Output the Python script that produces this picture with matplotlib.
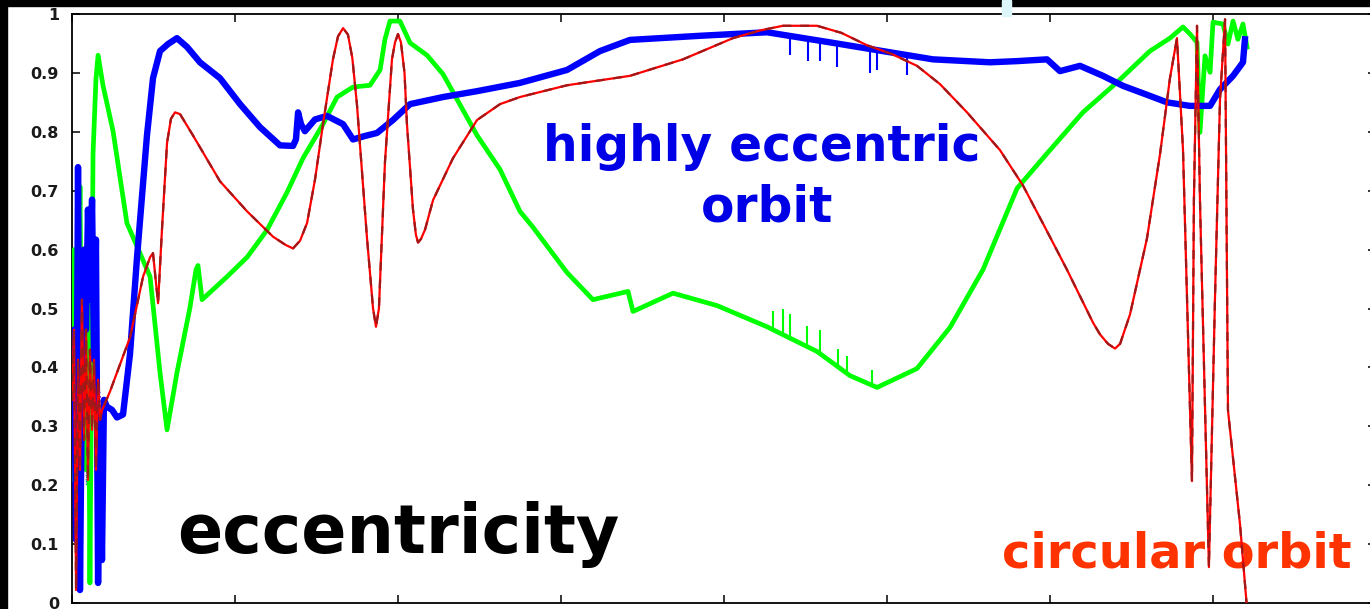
import matplotlib.pyplot as plt
import numpy as np
from matplotlib.patches import Rectangle

# time in tick units, eccentricity on the y axis
red_t = [0.000, 0.012, 0.025, 0.037, 0.049, 0.061, 0.074, 0.086, 0.098, 0.110,
         0.123, 0.135, 0.147, 0.160, 0.172, 0.184, 0.233, 0.356, 0.436, 0.479,
         0.497, 0.528, 0.552, 0.583, 0.607, 0.632, 0.663, 0.742, 0.908, 1.074,
         1.233, 1.310, 1.356, 1.399, 1.442, 1.491, 1.540, 1.601, 1.632, 1.663,
         1.693, 1.720, 1.748, 1.810, 1.847, 1.865, 1.883, 1.920, 1.963, 1.982,
         2.000, 2.018, 2.040, 2.055, 2.092, 2.110, 2.123, 2.141, 2.166, 2.215,
         2.337, 2.485, 2.626, 2.748, 3.037, 3.423, 3.748, 4.055, 4.220, 4.362,
         4.571, 4.720, 4.877, 5.030, 5.184, 5.325, 5.491, 5.693, 5.834, 5.969,
         6.104, 6.264, 6.307, 6.356, 6.399, 6.430, 6.491, 6.595, 6.675, 6.736,
         6.779, 6.816, 6.871, 6.883, 6.902, 6.920, 6.975, 7.012, 7.043, 7.074,
         7.080, 7.092, 7.166, 7.209]
red_e = [0.345, 0.464, 0.022, 0.413, 0.226, 0.515, 0.277, 0.464, 0.209, 0.430,
         0.294, 0.413, 0.226, 0.379, 0.311, 0.327, 0.359, 0.451, 0.554, 0.587,
         0.594, 0.509, 0.634, 0.781, 0.822, 0.833, 0.830, 0.794, 0.716, 0.665,
         0.622, 0.608, 0.602, 0.615, 0.645, 0.719, 0.813, 0.923, 0.962, 0.976,
         0.965, 0.925, 0.847, 0.619, 0.500, 0.469, 0.500, 0.748, 0.923, 0.952,
         0.966, 0.952, 0.900, 0.813, 0.668, 0.625, 0.612, 0.618, 0.634, 0.684,
         0.755, 0.820, 0.847, 0.859, 0.879, 0.895, 0.923, 0.959, 0.972, 0.980,
         0.980, 0.968, 0.947, 0.932, 0.912, 0.881, 0.833, 0.769, 0.709, 0.638,
         0.566, 0.476, 0.456, 0.440, 0.432, 0.440, 0.490, 0.619, 0.762, 0.891,
         0.959, 0.770, 0.207, 0.685, 0.980, 0.685, 0.061, 0.515, 0.855, 0.991,
         0.770, 0.327, 0.133, -0.010]

blue_t = [0.000, 0.012, 0.025, 0.037, 0.049, 0.061, 0.074, 0.086, 0.098, 0.110,
          0.123, 0.135, 0.147, 0.160, 0.172, 0.184, 0.196, 0.215, 0.245, 0.276,
          0.313, 0.356, 0.399, 0.460, 0.497, 0.540, 0.589, 0.644, 0.706, 0.785,
          0.908, 1.031, 1.153, 1.276, 1.356, 1.374, 1.387, 1.405, 1.429, 1.491,
          1.564, 1.663, 1.724, 1.798, 1.871, 1.969, 2.074, 2.276, 2.485, 2.748,
          3.037, 3.239, 3.423, 3.853, 4.264, 4.669, 4.975, 5.282, 5.632, 5.798,
          5.982, 6.061, 6.184, 6.325, 6.448, 6.613, 6.718, 6.859, 6.982, 7.043,
          7.123, 7.184, 7.196]
blue_e = [0.311, 0.464, 0.107, 0.740, 0.022, 0.379, 0.600, 0.464, 0.668, 0.515,
          0.685, 0.413, 0.617, 0.034, 0.311, 0.073, 0.345, 0.333, 0.328, 0.315,
          0.320, 0.423, 0.587, 0.794, 0.891, 0.937, 0.949, 0.959, 0.944, 0.918,
          0.891, 0.847, 0.808, 0.777, 0.776, 0.787, 0.833, 0.813, 0.801, 0.821,
          0.827, 0.813, 0.787, 0.793, 0.798, 0.820, 0.847, 0.859, 0.869, 0.883,
          0.905, 0.937, 0.956, 0.963, 0.969, 0.951, 0.937, 0.923, 0.918, 0.920,
          0.923, 0.903, 0.912, 0.895, 0.878, 0.861, 0.850, 0.844, 0.844, 0.872,
          0.895, 0.918, 0.957]

green_t = [0.000, 0.012, 0.025, 0.037, 0.049, 0.061, 0.074, 0.086, 0.098, 0.110,
           0.123, 0.129, 0.147, 0.160, 0.190, 0.252, 0.337, 0.417, 0.479, 0.540,
           0.583, 0.644, 0.724, 0.761, 0.773, 0.798, 0.951, 1.074, 1.196, 1.319,
           1.417, 1.540, 1.626, 1.724, 1.828, 1.890, 1.920, 1.951, 2.012, 2.074,
           2.178, 2.276, 2.485, 2.626, 2.748, 2.828, 3.037, 3.196, 3.411, 3.442,
           3.687, 3.957, 4.264, 4.571, 4.773, 4.939, 5.184, 5.387, 5.589, 5.798,
           6.000, 6.202, 6.411, 6.613, 6.736, 6.816, 6.859, 6.902, 6.920, 6.951,
           6.982, 7.000, 7.061, 7.092, 7.123, 7.153, 7.184, 7.209]
green_e = [0.209, 0.600, 0.141, 0.464, 0.707, 0.311, 0.515, 0.226, 0.600, 0.034,
           0.515, 0.762, 0.889, 0.930, 0.879, 0.801, 0.645, 0.594, 0.554, 0.391,
           0.294, 0.391, 0.502, 0.566, 0.573, 0.515, 0.554, 0.587, 0.633, 0.697,
           0.755, 0.813, 0.859, 0.876, 0.879, 0.905, 0.957, 0.988, 0.988, 0.951,
           0.930, 0.898, 0.794, 0.736, 0.665, 0.638, 0.561, 0.515, 0.529, 0.495,
           0.526, 0.505, 0.469, 0.427, 0.386, 0.366, 0.398, 0.468, 0.566, 0.704,
           0.769, 0.833, 0.884, 0.937, 0.959, 0.978, 0.966, 0.952, 0.799, 0.929,
           0.901, 0.986, 0.983, 0.949, 0.988, 0.957, 0.983, 0.944]

# short runs that only live in the first burst
purple_t = [0.00, 0.02, 0.04, 0.06, 0.08, 0.10, 0.12, 0.14, 0.16, 0.18]
purple_e = [0.42, 0.18, 0.40, 0.12, 0.36, 0.22, 0.44, 0.30, 0.38, 0.33]
teal_t = [0.000, 0.015, 0.030, 0.045, 0.060, 0.075, 0.090, 0.105, 0.120]
teal_e = [0.12, 0.45, 0.08, 0.40, 0.15, 0.46, 0.20, 0.38, 0.28]

# glitches sticking out of the noisy runs
blue_spike_t = [4.405, 4.515, 4.589, 4.693, 4.896, 4.939, 5.123]
blue_spike_e = [0.930, 0.921, 0.920, 0.910, 0.900, 0.905, 0.897]
green_spike_t = [4.301, 4.362, 4.405, 4.509, 4.589, 4.699, 4.755, 4.908]
green_spike_e = [0.496, 0.500, 0.490, 0.470, 0.463, 0.431, 0.420, 0.395]

yticks = [0, 0.1, 0.2, 0.3, 0.4, 0.5, 0.6, 0.7, 0.8, 0.9, 1]
ytick_labels = ["0", "0.1", "0.2", "0.3", "0.4", "0.5", "0.6", "0.7", "0.8", "0.9", "1"]

fig = plt.figure(figsize=(13.7, 6.09), dpi=100)
ax = fig.add_axes([0.05255, 0.00985, 0.95182, 0.96716])

ax.plot(teal_t, teal_e, color='#208080', lw=1.2, ls=':', zorder=2)
ax.plot(purple_t, purple_e, color='#8020a0', lw=1.2, ls=':', zorder=2)

ax.plot(green_t, green_e, color='#00ff00', lw=3.4, zorder=3)
gb = np.interp(green_spike_t, green_t, green_e)
ax.vlines(green_spike_t, gb, green_spike_e, color='#00ff00', lw=1.5, zorder=3)

ax.plot(blue_t, blue_e, color='#0000ff', lw=4.6, zorder=4)
bb = np.interp(blue_spike_t, blue_t, blue_e)
ax.vlines(blue_spike_t, bb, blue_spike_e, color='#0000ff', lw=1.5, zorder=4)

ax.plot(red_t, red_e, color='#ff0000', lw=1.6, zorder=5)
ax.plot(red_t, red_e, color='#a01818', lw=1.6, dashes=(4, 4), zorder=5)

ax.set_xlim(0, 8)
ax.set_ylim(0, 1)
ax.set_xticks(range(0, 9))
ax.set_xticklabels([])
ax.set_yticks(yticks)
ax.set_yticklabels(ytick_labels)
ax.tick_params(direction='in', length=6, width=1.1, top=True, right=True,
               pad=9.4, labelsize=11.5, labelcolor='#1a1a1a')
for lab in ax.get_yticklabels():
    lab.set_fontweight('bold')
for s in ax.spines.values():
    s.set_linewidth(1.3)

ax.text(2.0, 0.085, "eccentricity", fontsize=48, fontweight='bold',
        color='black', ha='center', va='baseline', zorder=1)
ax.text(4.230, 0.750, "highly eccentric", fontsize=35, fontweight='bold',
        color='#0000e6', ha='center', va='baseline', zorder=1)
ax.text(4.267, 0.648, "orbit", fontsize=35, fontweight='bold',
        color='#0000e6', ha='center', va='baseline', zorder=1)
ax.text(6.776, 0.061, "circular orbit", fontsize=34.5, fontweight='bold',
        color='#ff3300', ha='center', va='baseline', zorder=1)

# dark frame left over along the top and left edges
fig.patches.append(Rectangle((0, 1 - 6 / 609), 1, 6 / 609, transform=fig.transFigure,
                             color='black', zorder=10))
fig.patches.append(Rectangle((0, 0), 7 / 1370, 1, transform=fig.transFigure,
                             color='black', zorder=10))
fig.patches.append(Rectangle((1002 / 1370, 1 - 16 / 609), 9 / 1370, 16 / 609,
                             transform=fig.transFigure, color='#ddf6fa', zorder=11))

fig.savefig("out.png", dpi=100)
